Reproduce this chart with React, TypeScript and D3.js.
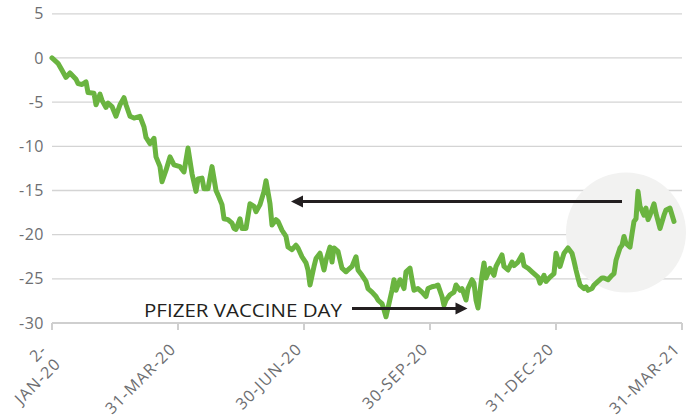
import * as d3 from "d3";

// trading day (0 = 2-Jan-20) and cumulative performance %
const PERFORMANCE: [number, number][] = [
  [0, 0], [3, -0.6], [5, -1.4], [7, -2.2], [9, -1.7], [12, -2.4], [13, -2.9], [15, -3.0],
  [17, -2.7], [18, -3.9], [21, -4.0], [22, -5.3], [24, -4.1], [25, -4.8], [27, -5.6], [28, -5.1],
  [30, -5.5], [32, -6.6], [34, -5.3], [36, -4.5], [37, -5.3], [39, -6.6], [41, -6.8], [44, -6.6],
  [46, -7.8], [47, -9.0], [49, -9.7], [51, -9.1], [52, -11.2], [54, -12.3], [55, -14.0], [57, -12.7],
  [59, -11.2], [61, -12.1], [64, -12.3], [66, -12.9], [68, -10.2], [70, -13.1], [72, -15.1], [73, -13.7],
  [75, -13.6], [76, -14.8], [78, -14.8], [80, -12.3], [82, -15.0], [83, -15.5], [85, -16.6], [86, -18.2],
  [88, -18.3], [90, -18.7], [91, -19.3], [92, -19.4], [94, -18.2], [95, -19.3], [97, -19.3], [99, -16.5],
  [101, -16.8], [102, -17.4], [104, -16.6], [106, -15.1], [107, -13.9], [109, -16.5], [110, -18.9], [112, -18.3],
  [113, -18.5], [115, -19.5], [117, -20.2], [118, -21.4], [120, -21.7], [122, -21.2], [123, -21.5], [125, -22.5],
  [127, -23.2], [128, -24.0], [129, -25.7], [131, -23.6], [132, -22.7], [134, -22.1], [136, -24.0], [137, -22.9],
  [139, -21.4], [140, -23.1], [141, -21.5], [143, -21.9], [145, -23.8], [147, -24.2], [148, -24.0], [150, -23.6],
  [152, -22.5], [153, -24.0], [155, -24.6], [157, -25.3], [158, -26.1], [160, -26.5], [162, -27.0], [163, -27.4],
  [165, -27.8], [166, -28.5], [167, -29.3], [168, -28.3], [170, -26.3], [171, -25.1], [172, -26.3], [174, -25.1],
  [176, -26.1], [177, -24.2], [179, -23.8], [180, -25.1], [181, -26.3], [183, -26.1], [185, -26.5], [187, -27.0],
  [188, -26.1], [190, -25.9], [192, -25.8], [193, -25.7], [195, -27.0], [196, -28.0], [197, -27.4], [199, -26.8],
  [201, -26.5], [202, -25.7], [204, -26.3], [205, -26.1], [207, -27.4], [208, -26.1], [210, -25.1], [211, -25.5],
  [212, -27.4], [213, -28.3], [215, -24.6], [216, -23.2], [217, -24.9], [219, -23.8], [221, -24.6], [222, -23.6],
  [225, -22.3], [226, -23.6], [228, -24.0], [230, -23.1], [231, -23.5], [233, -23.1], [235, -22.3], [236, -23.5],
  [238, -23.8], [240, -24.2], [241, -24.4], [243, -24.8], [244, -25.5], [246, -24.6], [247, -25.3], [249, -24.8],
  [251, -24.4], [252, -22.1], [254, -23.6], [256, -22.1], [258, -21.5], [260, -22.1], [261, -23.0], [262, -24.0],
  [263, -24.9], [264, -25.7], [266, -26.1], [267, -25.9], [268, -26.3], [270, -26.1], [271, -25.7], [273, -25.3],
  [275, -24.9], [276, -24.9], [278, -25.1], [280, -24.6], [281, -24.4], [282, -22.9], [284, -21.5], [285, -21.2],
  [286, -20.2], [287, -21.0], [289, -21.4], [290, -19.9], [291, -18.5], [292, -18.2], [293, -15.1], [294, -16.8],
  [296, -17.8], [297, -17.0], [298, -18.3], [299, -17.8], [301, -16.5], [302, -17.6], [304, -19.3], [306, -17.8],
  [307, -17.2], [309, -17.0], [311, -18.5],
];

const Y_TICKS = [5, 0, -5, -10, -15, -20, -25, -30];
const X_TICK_DAYS = [0, 63, 126, 189, 252, 315];
const X_TICK_LABELS = [["2-", "JAN-20"], ["31-MAR-20"], ["30-JUN-20"], ["30-SEP-20"], ["31-DEC-20"], ["31-MAR-21"]];

// annotations, in data units
const BACK_ARROW = { from: 285, to: 119.5, value: -16.25 };
const VACCINE_ARROW = { from: 150, to: 207.75, value: -28.36 };
const VACCINE_LABEL = { text: "PFIZER VACCINE DAY", day: 46, value: -29.3 };
const HIGHLIGHT = { day: 287, value: -19.75, radius: 60 };

const GREEN = "#6ab440";
const INK = "#231f20";
const GREY_TEXT = "#6d6e71";

export default function App() {
  const width = 689;
  const height = 420;

  const x = d3.scaleLinear().domain([0, 315]).range([52, 682]);
  const y = d3.scaleLinear().domain([-30, 5]).range([323, 13.8]);

  const line = d3
    .line<[number, number]>()
    .x((d) => x(d[0]))
    .y((d) => y(d[1]))
    .curve(d3.curveLinear);

  const arrowHead = (tipX: number, tipY: number, dir: number) =>
    `M${tipX},${tipY} L${tipX - dir * 12},${tipY - 6} L${tipX - dir * 12},${tipY + 6} Z`;

  const fontFamily = "'Open Sans', 'DejaVu Sans', sans-serif";

  return (
    <svg
      width={width}
      height={height}
      style={{ position: "absolute", left: 0, top: 0, background: "#fff" }}
      fontFamily={fontFamily}
    >
      {/* gridlines */}
      {Y_TICKS.filter((t) => t !== -30).map((t) => (
        <line key={t} x1={x(0)} x2={x(315)} y1={y(t)} y2={y(t)} stroke="#d4d4d4" strokeWidth={1.3} />
      ))}
      {/* y labels */}
      {Y_TICKS.map((t) => (
        <text
          key={"l" + t}
          x={44}
          y={y(t)}
          dy="0.35em"
          textAnchor="end"
          fontSize={16}
          fill={GREY_TEXT}
          letterSpacing={0.5}
        >
          {t}
        </text>
      ))}

      {/* highlight circle */}
      <circle cx={x(HIGHLIGHT.day)} cy={y(HIGHLIGHT.value)} r={HIGHLIGHT.radius} fill="#f2f2f1" />

      {/* x axis */}
      <line x1={x(0)} x2={x(315)} y1={y(-30)} y2={y(-30)} stroke="#cfcfcf" strokeWidth={2} />
      {X_TICK_DAYS.map((d) => (
        <line key={"t" + d} x1={x(d)} x2={x(d)} y1={y(-30)} y2={y(-30) + 7} stroke="#cfcfcf" strokeWidth={2} />
      ))}
      {X_TICK_DAYS.map((d, i) => {
        const lines = X_TICK_LABELS[i];
        const ax = lines.length > 1 ? x(d) - 4 : x(d) - 1;
        const ay = lines.length > 1 ? y(-30) + 28 : y(-30) + 27;
        return (
          <text
            key={"x" + d}
            transform={`translate(${ax},${ay}) rotate(-45)`}
            textAnchor="end"
            fontSize={16}
            fill={GREY_TEXT}
            letterSpacing={1.2}
          >
            {lines.map((s, j) => (
              <tspan key={j} x={0} y={j * 19.5}>
                {s}
              </tspan>
            ))}
          </text>
        );
      })}

      {/* series */}
      <path
        d={line(PERFORMANCE) ?? ""}
        fill="none"
        stroke={GREEN}
        strokeWidth={5}
        strokeLinejoin="round"
        strokeLinecap="round"
      />

      {/* arrows */}
      <line
        x1={x(BACK_ARROW.from)}
        x2={x(BACK_ARROW.to) + 10}
        y1={y(BACK_ARROW.value)}
        y2={y(BACK_ARROW.value)}
        stroke={INK}
        strokeWidth={3}
      />
      <path d={arrowHead(x(BACK_ARROW.to), y(BACK_ARROW.value), -1)} fill={INK} />
      <line
        x1={x(VACCINE_ARROW.from)}
        x2={x(VACCINE_ARROW.to) - 10}
        y1={y(VACCINE_ARROW.value)}
        y2={y(VACCINE_ARROW.value)}
        stroke={INK}
        strokeWidth={3}
      />
      <path d={arrowHead(x(VACCINE_ARROW.to), y(VACCINE_ARROW.value), 1)} fill={INK} />

      <text
        x={x(VACCINE_LABEL.day)}
        y={y(VACCINE_LABEL.value)}
        fontSize={19}
        fill={INK}
        textLength={198}
        lengthAdjust="spacingAndGlyphs"
      >
        {VACCINE_LABEL.text}
      </text>
    </svg>
  );
}
